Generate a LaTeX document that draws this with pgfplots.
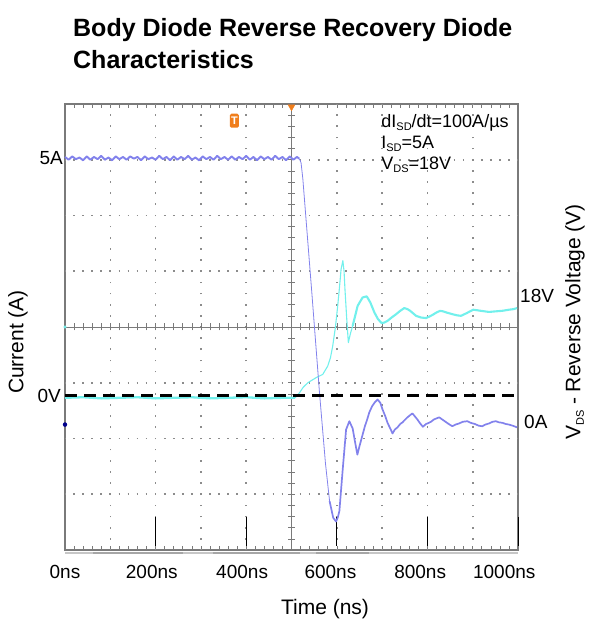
\documentclass[border=0pt]{standalone}
\usepackage{pgfplots}
\pgfplotsset{compat=1.18}
\usepackage{fontspec}
\setmainfont{Liberation Sans}
\usepackage{graphicx}
\definecolor{trI}{HTML}{8282EC}
\definecolor{trV}{HTML}{72F0EC}
\definecolor{frame}{HTML}{7A7A7A}
\definecolor{gridc}{HTML}{8C8C8C}
\definecolor{trig}{HTML}{F07E1C}
\newcommand{\fs}[1]{\fontsize{#1bp}{#1bp}\selectfont}
\newcommand{\sub}[1]{\raisebox{-0.3ex}{\fs{11}#1}}
\begin{document}
\begin{tikzpicture}[x=1bp,y=1bp]
\useasboundingbox (-65,-74) rectangle (527,550);
\begin{axis}[at={(0,0)}, anchor=south west, width=453bp, height=446bp, scale only axis,
  xmin=0, xmax=1000, ymin=-4, ymax=4, clip=false,
  axis line style={draw=frame, line width=1.5bp},
  xtick={0,191.6,391,585.9,784,969.6},
  xticklabels={0ns,200ns,400ns,600ns,800ns,1000ns},
  major tick length=0pt,
  xticklabel style={anchor=base, yshift=-28bp, font=\fs{19}},
  ytick=\empty,
  minor xtick={0,20,...,1000},
  minor ytick={-4,-3.8,...,4},
  minor tick length=4bp, tick align=inside, tick pos=both,
  minor tick style={draw=frame, line width=0.6bp},
]
% dotted grid
\pgfplotsinvokeforeach{100,200,300,400,600,700,800,900}{\draw[gridc, line width=1.6bp, dash pattern=on 1.7bp off 9.45bp, dash phase=0.85bp] (axis cs:#1,-4) -- (axis cs:#1,4);}
\pgfplotsinvokeforeach{-3,-2,-1,1,2,3}{\draw[gridc, line width=1.6bp, dash pattern=on 1.7bp off 7.36bp, dash phase=0.85bp] (axis cs:0,#1) -- (axis cs:1000,#1);}
% crosshair
\draw[frame, line width=0.9bp] (axis cs:500,-4) -- (axis cs:500,4);
\draw[frame, line width=0.9bp] (axis cs:0,0) -- (axis cs:1000,0);
\pgfplotsinvokeforeach{-3.8,-3.6,...,3.8}{\draw[frame, line width=0.6bp] ([xshift=-3.5bp]axis cs:500,#1) -- ([xshift=3.5bp]axis cs:500,#1);}
\pgfplotsinvokeforeach{20,40,...,980}{\draw[frame, line width=0.6bp] ([yshift=-3.5bp]axis cs:#1,0) -- ([yshift=3.5bp]axis cs:#1,0);}
% bottom strip
\draw[gray!45, line width=1.5bp] ([yshift=-3bp]axis cs:0,-4) -- ([yshift=-3bp]axis cs:1000,-4);
\draw[gray!70, line width=2bp] ([yshift=-3bp]axis cs:62,-4) -- ([yshift=-3bp]axis cs:260,-4);
\draw[gray!70, line width=2bp] ([yshift=-3bp]axis cs:326,-4) -- ([yshift=-3bp]axis cs:518,-4);
\draw[gray!70, line width=2bp] ([yshift=-3bp]axis cs:555,-4) -- ([yshift=-3bp]axis cs:672,-4);
% short black marks
\pgfplotsinvokeforeach{200,400,600,800,1000}{\draw[black, line width=1bp] (axis cs:#1,-3.92) -- (axis cs:#1,-3.40);}

% V_DS trace (cyan)
\addplot[trV, line width=2.3bp, mark=none] coordinates {
(0,-1.27) (40,-1.26) (80,-1.28) (120,-1.27) (160,-1.26) (200,-1.28) (240,-1.27) (280,-1.26)
(320,-1.28) (360,-1.27) (400,-1.26) (440,-1.28) (480,-1.27) (508,-1.27)};
\addplot[trV, line width=1.1bp, mark=none, line join=round] coordinates {
(508,-1.27) (517.6,-1.18) (526,-1.08) (536,-1.00) (554,-0.91) (569,-0.85) (580,-0.70)
(586,-0.55) (591,-0.34) (597,0.00) (602,0.38) (606,0.72) (609.5,1.04) (613.4,1.19)
(616,1.00) (618,0.68) (621.5,0.20) (625.5,-0.28) (630,-0.12) (635,0.02)};
\addplot[trV, line width=2.1bp, mark=none, line join=round] coordinates {
(635,0.02) (646,0.38) (657,0.53) (666,0.55) (674,0.44) (683,0.26) (691,0.14) (699,0.07)
(705,0.08) (712,0.11) (721,0.17) (731,0.23) (740,0.29) (749,0.34) (756,0.32) (762,0.29)
(775,0.20) (786,0.17) (797,0.16) (805,0.19) (812,0.22) (820,0.26) (828,0.29) (835,0.28)
(842,0.26) (855,0.23) (865,0.21) (874,0.20) (887,0.25) (901,0.31) (910,0.30) (918,0.29)
(927,0.28) (936,0.27) (950,0.28) (965,0.29) (980,0.31) (990,0.32) (998,0.34)};

% I_SD trace (blue)
\addplot[trI, line width=1.9bp, mark=none, line join=round] coordinates {
(0,3.05) (8,3.00) (16,3.06) (24,3.01) (32,3.04) (40,2.99) (48,3.06) (56,3.00) (64,3.05)
(72,3.01) (80,3.07) (88,3.00) (96,3.04) (104,2.99) (112,3.06) (120,3.01) (128,3.05)
(136,3.00) (144,3.06) (152,3.02) (160,3.05) (168,2.99) (176,3.06) (184,3.01) (192,3.04)
(200,3.00) (208,3.07) (216,3.01) (224,3.05) (232,2.99) (240,3.06) (248,3.00) (256,3.05)
(264,3.01) (272,3.07) (280,3.00) (288,3.04) (296,2.99) (304,3.06) (312,3.01) (320,3.05)
(328,3.00) (336,3.07) (344,3.01) (352,3.05) (360,3.00) (368,3.06) (376,3.00) (384,3.05)
(392,3.01) (400,3.07) (408,3.00) (416,3.05) (424,2.99) (432,3.06) (440,3.01) (448,3.05)
(456,3.00) (464,3.07) (472,3.01) (480,3.05) (488,2.99) (496,3.06) (504,3.00) (512,3.05)
(517,3.02)};
\addplot[trI, line width=0.8bp, mark=none, line join=round] coordinates {
(517,3.02) (521,2.95) (525,2.66) (545,0.60) (561.7,-1.17) (575,-2.45) (584,-3.12)};
\addplot[trI, line width=1.7bp, mark=none, line join=round] coordinates {
(584,-3.12) (592,-3.42) (598.4,-3.49) (602,-3.42) (605.7,-3.30) (613,-2.56) (620.5,-1.84)
(627.7,-1.69) (635,-1.82) (640,-2.05) (645.4,-2.29) (650,-2.14) (654,-2.02) (662,-1.78)
(667,-1.66) (671.8,-1.53) (678,-1.42) (684,-1.35) (690,-1.30) (696,-1.36) (701,-1.48)
(707,-1.60) (712,-1.72) (718,-1.82) (723,-1.91) (728,-1.84) (734,-1.80) (740,-1.74)
(745,-1.71) (751,-1.66) (756,-1.62) (762,-1.58) (767,-1.55) (772,-1.60) (778,-1.66)
(784,-1.73) (790,-1.79) (797,-1.74) (803,-1.72) (808,-1.70) (814,-1.66) (820,-1.64)
(826,-1.62) (833,-1.66) (840,-1.70) (847,-1.74) (855,-1.78) (862,-1.75) (870,-1.73)
(878,-1.70) (888,-1.69) (896,-1.72) (905,-1.74) (913,-1.77) (921,-1.78) (928,-1.75)
(936,-1.73) (944,-1.70) (951,-1.69) (958,-1.71) (966,-1.72) (973,-1.74) (980,-1.75)
(988,-1.77) (998,-1.80)};

% 0 V reference
\addplot[black, line width=2.4bp, dash pattern=on 12bp off 7bp, mark=none] coordinates {(0,-1.23) (1000,-1.23)};

% channel / trigger markers
\addplot[only marks, mark=*, mark size=2bp, color=blue!55!black] coordinates {(0,-1.75)};
\addplot[only marks, mark=*, mark size=1.3bp, color=trV] coordinates {(0,0)};
\addplot[only marks, mark=triangle*, mark size=4bp, mark options={rotate=180, fill=trig, draw=trig}] coordinates {(500,3.95)};
\node[fill=trig, text=white, font=\bfseries\fs{11}, inner sep=1bp, minimum width=9bp, minimum height=14bp, rounded corners=1.5bp] at (axis cs:374,3.70) {T};

% level labels
\node[anchor=east, font=\fs{19}, inner sep=0pt, xshift=-2bp] at (axis cs:0,3.03) {5A};
\node[anchor=east, font=\fs{19}, inner sep=0pt, xshift=-4bp] at (axis cs:0,-1.23) {0V};
\node[anchor=west, font=\fs{19}, inner sep=0pt, xshift=2bp] at (axis cs:1000,0.55) {18V};
\node[anchor=west, font=\fs{19}, inner sep=0pt, xshift=6bp] at (axis cs:1000,-1.70) {0A};

% annotations
\node[anchor=base west, font=\fs{18}, inner sep=0pt] at (axis cs:698,3.58) {dI\sub{SD}/dt=100A/µs};
\node[anchor=base west, font=\fs{18}, inner sep=0pt] at (axis cs:698,3.20) {I\sub{SD}=5A};
\node[anchor=base west, font=\fs{18}, inner sep=0pt] at (axis cs:698,2.83) {V\sub{DS}=18V};
\end{axis}
% titles and axis labels
\node[anchor=base west, font=\bfseries\fs{25}, inner sep=0pt] at (8,513) {Body Diode Reverse Recovery Diode};
\node[anchor=base west, font=\bfseries\fs{25}, inner sep=0pt] at (8,481) {Characteristics};
\node[rotate=90, font=\fs{21}, inner sep=0pt] at (-47,208) {Current (A)};
\node[rotate=90, font=\fs{21}, inner sep=0pt] at (510,228) {V\sub{DS} - Reverse Voltage (V)};
\node[anchor=base, font=\fs{21}, inner sep=0pt] at (260,-64) {Time (ns)};
\end{tikzpicture}
\end{document}
